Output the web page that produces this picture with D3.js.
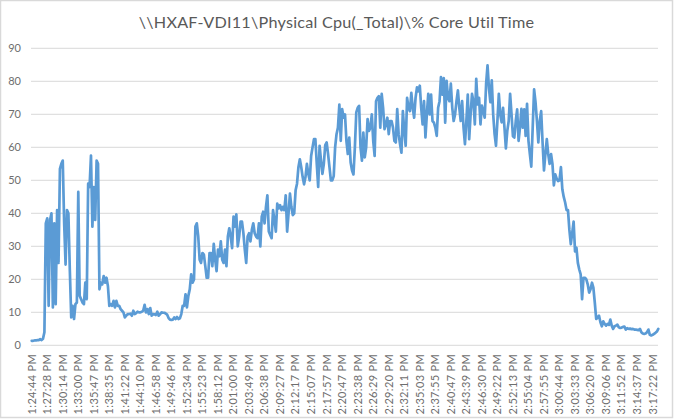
<!DOCTYPE html>
<html lang="en">
<head>
<meta charset="utf-8">
<script src="https://d3js.org/d3.v7.min.js"></script>
<title>Physical Cpu Core Util Time</title>
<style>
	html, body { margin:0; padding:0; background:white; }
	svg { display:block; }
	text { font-family:Lato, "Open Sans", sans-serif; fill:#6e6e6e; }
	.grid line { stroke:#e0e0e0; stroke-width:1.2px; }
	.domain { display:none; }
</style>
</head>
<body>
<script type="text/javascript">

var chartTitle = "\\\\HXAF-VDI11\\Physical Cpu(_Total)\\% Core Util Time";

var yTicks = [0, 10, 20, 30, 40, 50, 60, 70, 80, 90];

// one label every 11 samples
var timeLabels = [
	"1:24:44 PM","1:27:28 PM","1:30:14 PM","1:33:00 PM","1:35:47 PM","1:38:35 PM","1:41:22 PM",
	"1:44:10 PM","1:46:58 PM","1:49:46 PM","1:52:34 PM","1:55:23 PM","1:58:12 PM","2:01:00 PM",
	"2:03:49 PM","2:06:38 PM","2:09:27 PM","2:12:17 PM","2:15:07 PM","2:17:57 PM","2:20:47 PM",
	"2:23:38 PM","2:26:29 PM","2:29:20 PM","2:32:11 PM","2:35:03 PM","2:37:55 PM","2:40:47 PM",
	"2:43:39 PM","2:46:30 PM","2:49:22 PM","2:52:13 PM","2:55:04 PM","2:57:55 PM","3:00:44 PM",
	"3:03:33 PM","3:06:20 PM","3:09:06 PM","3:11:52 PM","3:14:37 PM","3:17:22 PM"
];
var labelStep = 11;

// one row per label interval
var coreUtil = [
	1.4,1.4,1.5,1.5,1.6,1.6,1.9,1.6,2,4,37,
	38.5,12,38,40,11.5,37,12.5,41,25,53.5,55,
	56,37,24.5,41,40,23,8.5,12,8,12.5,13,
	46.5,15,14,13,12.5,19,14,49,48,57.5,36,
	48,38,56,55,17,19,18.5,21,19,20.5,18,
	12,12.5,12,13.5,11.5,13.5,12,12,11,10.5,10,
	8.5,9,9.5,9.5,9.6,9,10.5,9.5,9.8,10.2,10,
	10,10.2,10.5,12.3,10,11,9.5,11.3,9,9.5,9.4,
	9.2,10.2,9,9.5,10,9.9,9.9,9.6,9.3,8.3,7.8,
	7.7,7.8,8.5,8,8.6,8,8.2,9.5,12,12,15.5,
	11.5,15,17,21.5,19,20,36,37,33,26,25,
	28,27.5,24,20.5,20.5,28,28,24,30.8,26,22.5,
	29,27,31.5,26,25,29,24,33,35.5,33,29.5,
	39,36,39.7,30,33,37.5,37.5,34,29,25,33,
	34,31.5,35,37,34,33,32.5,37,30,39,40.5,
	37,42,45.5,34.5,33.5,32.5,41,38,34.5,43,41.5,
	42.5,41,42,41,45.5,34.5,40,46,42,39.5,40,
	47,49,54,56.4,54,51,48.8,51,55,52,50,
	57.4,60,62.5,62.5,55,48,60.5,56,52,55,60.7,
	61.5,58,54,50,50,51.3,60,64,66,73,62,
	71.6,69,70,62,58,63,55.4,53,51.8,60,70.6,
	72,72.6,60,56,64.5,57,60,68.6,65,66,70,
	62,57.4,74,75,75.5,66,76.2,72,65.5,67,69,
	64,68,68,66,62,61.5,71.6,64,61,58.4,71,
	65,60.5,75,72,71,76.5,72,69,75,78.2,77,
	78.7,72,67,74,63,70,76.2,70,76,68,67.5,
	66,63.5,72,74,81.3,76,81,67.5,80.2,75,74,
	79.3,72,68,70,74,77.3,72,68,74,66,61,
	68,76,62.5,70,76.2,74,67,80.8,73,75,67,
	72.7,71,69,79.3,84.9,78,73.7,80.3,70,64,60.5,
	68,76.2,70,67.6,72,66,59.7,65,68,76.2,70,
	63.4,63,68,71.5,62,66,71.7,66,71.5,63.5,73.2,
	62,58,54.2,66,77.6,73.7,68,61.5,68,71,61.5,
	53,58,62.5,58,55,58,55,48.5,51.8,50.5,49.8,
	50,54,47.3,45,43.3,41,41,35,30.7,34,37.5,
	28.5,29.6,25,23,21.5,14,20.5,20.5,20,18.5,16,
	17,19,17.5,13,8,8.5,9,7,5.8,7.3,6.5,
	6,6.5,6.2,7.8,6,5,5.8,6,6.3,5.5,5.3,
	5.4,5.6,5.7,4.8,5.2,5,5.1,4.9,5,4.8,4.8,
	4.7,4.6,5,4,3.6,3.5,3.6,4,4.8,3.2,3,
	3.2,3.5,3.8,4.2,5
];

var width = 674,
	height = 419;

var svg = d3.select("body").append("svg")
	.attr("width", width)
	.attr("height", height);

// chart frame
svg.append("rect")
	.attr("x", 0.5).attr("y", 0.5)
	.attr("width", width - 2).attr("height", height - 2)
	.attr("fill", "white")
	.attr("stroke", "#d9d9d9")
	.attr("stroke-width", 1.5);

var X = d3.scaleBand().domain(d3.range(coreUtil.length)).range([31, 659]);
var Y = d3.scaleLinear().domain([0, 90]).range([345.4, 48.4]);

var line = d3.line()
	.x(function(d, i) { return X(i) + X.bandwidth() / 2; })
	.y(function(d) { return Y(d); })
	.curve(d3.curveLinear);

svg.append("g")
	.attr("class", "grid")
	.selectAll("line").data(yTicks).enter().append("line")
	.attr("x1", 31).attr("x2", 658)
	.attr("y1", function(d) { return Y(d); })
	.attr("y2", function(d) { return Y(d); });

var yAxis = d3.axisLeft(Y).tickValues(yTicks).tickSize(0).tickPadding(0);
svg.append("g")
	.attr("transform", "translate(21,0)")
	.call(yAxis)
	.selectAll("text")
	.attr("font-size", "11px")
	.style("font-family", "Lato, sans-serif");

var xAxis = d3.axisBottom(X)
	.tickValues(d3.range(0, coreUtil.length, labelStep))
	.tickSize(0)
	.tickFormat(function(d) { return timeLabels[d / labelStep]; });

svg.append("g")
	.attr("transform", "translate(0,345.4)")
	.call(xAxis)
	.selectAll("text")
	.attr("font-size", "11px")
	.attr("letter-spacing", "0.35px")
	.style("font-family", "Lato, sans-serif")
	.attr("text-anchor", "end")
	.attr("dy", "0.35em")
	.attr("transform", function() {
		return "translate(0,8.5) rotate(-90)";
	})
	.attr("x", 0)
	.attr("y", 0);

svg.append("path")
	.datum(coreUtil)
	.attr("d", line)
	.attr("fill", "none")
	.attr("stroke", "#5b9bd5")
	.attr("stroke-width", 2.7)
	.attr("stroke-linejoin", "round")
	.attr("stroke-linecap", "round");

svg.append("text")
	.attr("x", 336.5)
	.attr("y", 28)
	.attr("text-anchor", "middle")
	.attr("font-size", "16.2px")
	.attr("letter-spacing", "0.23px")
	.style("fill", "#595959")
	.text(chartTitle);

</script>
</body>
</html>
